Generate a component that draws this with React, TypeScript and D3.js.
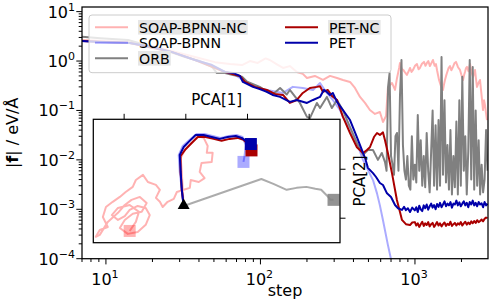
import React, { useRef, useEffect } from "react";
import * as d3 from "d3";

const W = 493;
const H = 308;

// legend / series setup
const seriesNames = ["SOAP-BPNN-NC", "SOAP-BPNN", "ORB", "PET-NC", "PET"];
const seriesColors = ["#ff0000", "#0000ff", "#808080", "#aa0000", "#0000aa"];
const seriesAlpha = [0.3, 0.33, 1, 1, 1];
const highlighted = [true, false, true, true, false];

// |f| vs step, [step, force in eV/Å]
const soapNc: [number, number][] = [
  [7, 2.67], [13.9, 2.44], [19.9, 2.0], [26.6, 1.6], [37.7, 1.21], [50.8, 0.95], [63.5, 0.87],
  [76, 0.83], [85.5, 1.0], [96, 0.915], [108, 1.13], [115, 1.05], [127, 0.87], [140, 0.725],
  [155, 0.79], [172, 0.6], [188, 0.55], [200, 0.455], [225, 0.5], [254, 0.414], [282, 0.5],
  [313, 0.455], [342, 0.414], [380, 0.377], [409, 0.285], [441, 0.188], [475, 0.142],
  [511, 0.102], [551, 0.085], [593, 0.093], [621, 0.0585], [650, 0.077], [668, 0.285],
  [710, 0.36], [743, 0.26], [765, 0.45], [790, 0.725], [800, 0.915], [820, 0.7], [840, 0.66],
  [865, 0.58], [887, 0.523], [910, 0.62], [929, 0.725], [950, 0.6], [971, 0.66], [1000, 0.8],
  [1030, 0.87], [1055, 0.68], [1077, 0.725], [1110, 0.88], [1144, 0.96], [1170, 0.8],
  [1196, 0.915], [1220, 1.0], [1250, 0.79], [1280, 0.92], [1308, 1.05], [1340, 0.8],
  [1367, 0.87], [1390, 0.65], [1410, 0.523], [1430, 0.42], [1452, 0.36], [1480, 0.3],
  [1518, 0.26], [1540, 0.33], [1564, 0.414], [1590, 0.5], [1611, 0.574], [1650, 0.72],
  [1686, 0.79], [1720, 0.65], [1763, 0.76], [1800, 0.9], [1843, 0.96], [1900, 0.75],
  [1956, 0.66], [2000, 0.52], [2047, 0.414], [2080, 0.52], [2108, 0.6], [2140, 0.72],
  [2172, 0.76], [2220, 0.62], [2271, 0.87], [2320, 0.6], [2376, 0.477], [2410, 0.56],
  [2447, 0.66], [2480, 0.45], [2520, 0.3], [2580, 0.36], [2636, 0.414], [2700, 0.2],
  [2756, 0.102], [2800, 0.16], [2839, 0.129], [2880, 0.09], [2925, 0.064],
];

const soap: [number, number][] = [
  [7, 2.55], [9.2, 2.44], [13.9, 2.32], [19.9, 1.93], [26.6, 1.53], [37.7, 1.05], [48.6, 0.83],
  [59, 0.6], [68.4, 0.523], [77, 0.414], [92, 0.3], [110, 0.26], [140, 0.226], [162, 0.3],
  [188, 0.285], [219, 0.26], [243, 0.36], [269, 0.226], [294, 0.163], [327, 0.102],
  [342, 0.074], [380, 0.044], [421, 0.022], [461, 0.01], [535, 0.0039], [568, 0.0021],
  [593, 0.0012], [621, 0.0006], [668, 0.00019], [710, 0.00008],
];

const orb: [number, number][] = [
  [7, 3.1], [9.2, 2.9], [13.9, 2.67], [19.3, 2.0], [25.9, 1.53], [32.5, 1.21], [40.6, 1.0],
  [48.6, 0.76], [52.3, 0.57], [59, 0.57], [66.4, 0.52], [76, 0.48], [82, 0.38], [99, 0.3],
  [110, 0.24], [120, 0.21], [134, 0.285], [148, 0.21], [155, 0.26], [180, 0.142], [200, 0.074],
  [209, 0.07], [232, 0.142], [243, 0.112], [269, 0.188], [290, 0.112], [313, 0.163],
  [342, 0.1], [380, 0.046], [421, 0.022], [461, 0.0126], [496, 0.0158], [535, 0.0158],
  [576, 0.01], [610, 0.0138], [640, 0.009], [655, 0.006], [670, 0.3], [685, 0.57],
  [700, 0.012], [716, 0.008], [732, 0.005], [748, 0.03], [765, 0.035], [782, 0.006],
  [800, 0.2], [818, 1.05], [836, 0.02], [855, 0.006], [874, 0.004], [893, 0.012],
  [913, 0.003], [934, 0.0025], [955, 0.03], [976, 0.004], [998, 0.008], [1020, 0.0035],
  [1043, 0.081], [1066, 0.006], [1090, 0.025], [1115, 0.003], [1140, 0.012], [1165, 0.0028],
  [1191, 0.035], [1218, 0.006], [1245, 0.0022], [1273, 0.015], [1301, 0.1], [1330, 0.003],
  [1360, 0.05], [1390, 0.0025], [1421, 0.064], [1453, 0.003], [1486, 1.2], [1519, 0.005],
  [1553, 0.16], [1588, 0.0035], [1623, 0.02], [1660, 0.0025], [1697, 0.04], [1735, 0.002],
  [1774, 0.012], [1813, 0.0028], [1854, 0.06], [1895, 0.002], [1938, 0.16], [1981, 0.003],
  [2025, 0.48], [2071, 0.006], [2117, 0.03], [2164, 0.002], [2213, 0.015], [2262, 1.05],
  [2313, 0.004], [2365, 0.76], [2418, 0.0025], [2472, 0.1], [2527, 0.003], [2584, 0.025],
  [2641, 0.002], [2701, 0.008], [2761, 0.0022], [2823, 0.004], [2886, 0.04], [2950, 0.006],
];

const petNc: [number, number][] = [
  [7, 2.55], [14.3, 2.32], [26.6, 1.53], [37.7, 1.05], [59, 0.6], [73.6, 0.5], [79.4, 0.377],
  [92, 0.3], [110, 0.26], [124, 0.216], [140, 0.206], [155, 0.142], [172, 0.163], [188, 0.226],
  [209, 0.285], [232, 0.3], [243, 0.31], [254, 0.237], [273, 0.26], [290, 0.197], [313, 0.163],
  [342, 0.074], [380, 0.035], [421, 0.018], [461, 0.0138], [489, 0.0158], [511, 0.018],
  [543, 0.029], [568, 0.035], [593, 0.032], [621, 0.036], [640, 0.025], [668, 0.0138],
  [710, 0.0054], [764, 0.00154], [800, 0.00088], [824, 0.00061], [874, 0.0005], [929, 0.00048],
  [960, 0.00054], [998, 0.00055], [1020, 0.00047], [1043, 0.00052], [1066, 0.00044],
  [1090, 0.0005], [1115, 0.00056], [1140, 0.00046], [1165, 0.00052], [1191, 0.00048],
  [1218, 0.00055], [1245, 0.00045], [1273, 0.0005], [1301, 0.00053], [1330, 0.00044],
  [1360, 0.00049], [1390, 0.00055], [1421, 0.00047], [1453, 0.00052], [1486, 0.00045],
  [1519, 0.0005], [1553, 0.00054], [1588, 0.00046], [1623, 0.00051], [1660, 0.00048],
  [1697, 0.00056], [1735, 0.00046], [1774, 0.0005], [1813, 0.00053], [1854, 0.00047],
  [1895, 0.00052], [1938, 0.00049], [1981, 0.00055], [2025, 0.00047], [2071, 0.00052],
  [2117, 0.00056], [2164, 0.00049], [2213, 0.00054], [2262, 0.0005], [2313, 0.00057],
  [2365, 0.00052], [2418, 0.00058], [2472, 0.00053], [2527, 0.0006], [2584, 0.00055],
  [2641, 0.00058], [2701, 0.00062], [2761, 0.00057], [2823, 0.00064], [2886, 0.00068],
  [2950, 0.00066],
];

const pet: [number, number][] = [
  [7, 2.55], [9.2, 2.44], [14.3, 2.32], [19.9, 1.93], [26.6, 1.53], [37.7, 1.05], [48.6, 0.83],
  [59, 0.6], [66.4, 0.574], [73.6, 0.5], [77, 0.377], [89.4, 0.3], [99, 0.27], [110, 0.237],
  [120, 0.206], [134, 0.188], [155, 0.149], [172, 0.163], [200, 0.142], [219, 0.163],
  [243, 0.188], [257, 0.26], [269, 0.237], [282, 0.206], [294, 0.226], [313, 0.149],
  [342, 0.102], [380, 0.064], [421, 0.029], [454, 0.0158], [475, 0.011], [496, 0.0069],
  [535, 0.0054], [560, 0.0045], [593, 0.0034], [621, 0.0031], [659, 0.0021], [700, 0.00177],
  [743, 0.00122], [777, 0.00105], [824, 0.00097], [850, 0.00112], [874, 0.00096],
  [900, 0.00105], [929, 0.00088], [960, 0.00108], [998, 0.00095], [1020, 0.0011],
  [1043, 0.00088], [1066, 0.00118], [1090, 0.001], [1115, 0.00092], [1140, 0.0012],
  [1165, 0.00105], [1191, 0.00125], [1218, 0.00098], [1245, 0.00115], [1273, 0.0013],
  [1301, 0.00108], [1330, 0.00122], [1360, 0.001], [1390, 0.00128], [1421, 0.00112],
  [1453, 0.00135], [1486, 0.0011], [1519, 0.00125], [1553, 0.00145], [1588, 0.00115],
  [1623, 0.0013], [1660, 0.0012], [1697, 0.0014], [1735, 0.00108], [1774, 0.0013],
  [1813, 0.00125], [1854, 0.0015], [1895, 0.0012], [1938, 0.00138], [1981, 0.00115],
  [2025, 0.0013], [2071, 0.00145], [2117, 0.0012], [2164, 0.00135], [2213, 0.0011],
  [2262, 0.0014], [2313, 0.00125], [2365, 0.0015], [2418, 0.0012], [2472, 0.00135],
  [2527, 0.00115], [2584, 0.0014], [2641, 0.00125], [2701, 0.00132], [2761, 0.0011],
  [2823, 0.0014], [2886, 0.0012], [2950, 0.0013],
];

// inset: trajectories in PCA space, [PCA1, PCA2]
const soapNcPca: [number, number][] = [
  [-0.07, -1.5], [-0.1, -0.84], [-0.13, -0.11], [-0.165, 0.46], [-0.03, 0.79], [0.19, 1.07],
  [0.39, 1.36], [0.58, 1.28], [0.71, 0.95], [0.68, 0.67], [0.87, 0.67], [0.84, 0.3],
  [0.51, 0.26], [0.45, -0.11], [0.61, -0.36], [0.42, -0.52], [0.16, -0.44], [0.13, -0.76],
  [-0.07, -0.84], [-0.29, -0.93], [-0.39, -1.21], [-0.59, -1.33], [-0.75, -1.54],
  [-0.84, -1.33], [-0.97, -1.17], [-0.84, -0.84], [-0.97, -0.64], [-1.23, -0.52],
  [-1.39, -0.23], [-1.62, -0.44], [-1.72, -0.72], [-1.95, -0.93], [-2.14, -1.13],
  [-2.37, -1.33], [-2.59, -1.54], [-2.69, -1.95], [-2.53, -2.36], [-2.79, -2.48],
  [-2.92, -2.76], [-2.79, -2.68], [-2.53, -2.15], [-2.2, -1.78], [-1.98, -1.46],
  [-1.76, -1.25], [-1.49, -1.13], [-1.27, -1.38], [-1.43, -1.74], [-1.72, -1.82],
  [-1.98, -2.07], [-2.14, -2.4], [-1.88, -2.64], [-1.56, -2.56], [-1.3, -2.27],
  [-1.17, -1.87], [-1.3, -1.58], [-1.56, -1.5], [-1.82, -1.66], [-1.98, -1.91],
  [-2.2, -2.07], [-2.4, -1.87], [-2.2, -1.58], [-1.82, -1.46], [-1.52, -1.74],
  [-1.62, -2.15], [-1.82, -2.52],
];
const soapPca: [number, number][] = [
  [-0.07, -1.5], [-0.13, -0.84], [-0.197, -0.11], [-0.23, 0.58], [-0.1, 0.95], [0.126, 1.2],
  [0.35, 1.44], [0.61, 1.44], [0.87, 1.36], [1.13, 1.28], [1.39, 1.36], [1.65, 1.4],
  [1.84, 1.32], [1.94, 0.99], [1.91, 0.58], [1.87, 0.3],
];
const orbPca: [number, number][] = [
  [-0.07, -1.5], [2.45, -0.4], [2.84, -0.6], [3.27, -0.84], [3.59, -0.76], [3.91, -0.72],
  [4.2, -0.8], [4.39, -0.84], [4.59, -1.09], [4.69, -1.25], [4.79, -1.25],
];
const petNcPca: [number, number][] = [
  [-0.07, -1.5], [-0.13, -0.84], [-0.17, -0.11], [-0.17, 0.54], [0.0, 0.83], [0.19, 1.07],
  [0.39, 1.32], [0.64, 1.32], [0.9, 1.24], [1.16, 1.16], [1.42, 1.24], [1.68, 1.28],
  [1.87, 1.2], [2.04, 0.99], [2.13, 0.77],
];
const petPca: [number, number][] = [
  [-0.07, -1.5], [-0.13, -0.84], [-0.165, -0.11], [-0.197, 0.58], [-0.068, 0.91],
  [0.126, 1.16], [0.32, 1.4], [0.58, 1.4], [0.84, 1.32], [1.1, 1.24], [1.36, 1.32],
  [1.62, 1.36], [1.81, 1.28], [2.01, 1.11], [2.11, 1.03],
];

const xMajor = [10, 100, 1000];
const xExp = ["1", "2", "3"];
const yMajor = [1e-4, 1e-3, 1e-2, 1e-1, 1, 10];
const yExp = ["\u22124", "\u22123", "\u22122", "\u22121", "0", "1"];
const pca1Ticks = [-2, 0, 2, 4];
const pca2Ticks = [-2, 0];

const FONT = "DejaVu Sans, sans-serif";

function App() {
  const svgRef = useRef(null);

  useEffect(() => {
    const svg = d3.select(svgRef.current);
    svg.selectAll("*").remove();

    const L = 82, R = 488, T = 7, B = 258.7;
    const x = d3.scaleLog().domain([7, 2970]).range([L, R]);
    const y = d3.scaleLog().domain([1e-4, 12.4]).range([B, T]);

    const defs = svg.append("defs");
    defs.append("clipPath").attr("id", "mainclip")
      .append("rect").attr("x", L).attr("y", T).attr("width", R - L).attr("height", B - T);

    // main lines
    const line = d3.line<[number, number]>().x(d => x(d[0])).y(d => y(d[1]));
    const mainData = [soapNc, soap, orb, petNc, pet];
    const gl = svg.append("g").attr("clip-path", "url(#mainclip)");
    mainData.forEach((s, i) => {
      gl.append("path")
        .attr("d", line(s))
        .attr("fill", "none")
        .attr("stroke", seriesColors[i])
        .attr("stroke-opacity", seriesAlpha[i])
        .attr("stroke-width", 2)
        .attr("stroke-linejoin", "round");
    });

    // axes ticks
    const ax = svg.append("g").attr("stroke", "#000").attr("stroke-width", 1);
    const xMinor: number[] = [];
    [1, 10, 100, 1000].forEach(dec => {
      for (let k = 2; k <= 9; k++) {
        const v = dec * k;
        if (v >= 7 && v <= 2970) xMinor.push(v);
      }
    });
    const yMinor: number[] = [];
    [1e-4, 1e-3, 1e-2, 1e-1, 1].forEach(dec => {
      for (let k = 2; k <= 9; k++) yMinor.push(dec * k);
    });
    xMinor.forEach(v => ax.append("line").attr("x1", x(v)).attr("x2", x(v)).attr("y1", B).attr("y2", B + 3.3));
    xMajor.forEach(v => ax.append("line").attr("x1", x(v)).attr("x2", x(v)).attr("y1", B).attr("y2", B + 5.7));
    yMinor.forEach(v => ax.append("line").attr("y1", y(v)).attr("y2", y(v)).attr("x1", L).attr("x2", L - 3.3));
    yMajor.forEach(v => ax.append("line").attr("y1", y(v)).attr("y2", y(v)).attr("x1", L).attr("x2", L - 5.7));

    xMajor.forEach((v, i) => {
      const t = svg.append("text").attr("x", x(v) - 1).attr("y", B + 26.5)
        .attr("text-anchor", "middle").attr("font-family", FONT).attr("font-size", 16);
      t.append("tspan").text("10");
      t.append("tspan").attr("dy", -7).attr("font-size", 11).text(xExp[i]);
    });
    yMajor.forEach((v, i) => {
      const t = svg.append("text").attr("x", L - 7).attr("y", y(v) + 6)
        .attr("text-anchor", "end").attr("font-family", FONT).attr("font-size", 16);
      t.append("tspan").text("10");
      t.append("tspan").attr("dy", -7).attr("font-size", 11).text(yExp[i]);
    });

    svg.append("text").attr("x", (L + R) / 2).attr("y", 296)
      .attr("text-anchor", "middle").attr("font-family", FONT).attr("font-size", 16).text("step");
    const yl = svg.append("text").attr("transform", `translate(18,${(T + B) / 2}) rotate(-90)`)
      .attr("text-anchor", "middle").attr("font-family", FONT).attr("font-size", 16);
    yl.append("tspan").text("|");
    yl.append("tspan").attr("font-weight", "bold").text("f");
    yl.append("tspan").text("| / eV/\u00c5");

    // inset
    const iL = 93.3, iR = 340, iT = 119.3, iB = 242.7;
    const px = d3.scaleLinear().domain([-3, 5]).range([iL, iR]);
    const py = d3.scaleLinear().domain([-3, 2.04]).range([iB, iT]);
    defs.append("clipPath").attr("id", "insetclip")
      .append("rect").attr("x", iL).attr("y", iT).attr("width", iR - iL).attr("height", iB - iT);

    svg.append("rect").attr("x", iL).attr("y", iT).attr("width", iR - iL).attr("height", iB - iT)
      .attr("fill", "#fff");
    const pline = d3.line<[number, number]>().x(d => px(d[0])).y(d => py(d[1]));
    const insetData = [soapNcPca, soapPca, orbPca, petNcPca, petPca];
    const insetColors = ["#ff0000", "#0000ff", "#808080", "#aa0000", "#0000aa"];
    const insetAlpha = [0.3, 0.33, 0.65, 1, 1];
    const gi = svg.append("g").attr("clip-path", "url(#insetclip)");
    insetData.forEach((s, i) => {
      gi.append("path")
        .attr("d", pline(s))
        .attr("fill", "none")
        .attr("stroke", insetColors[i])
        .attr("stroke-opacity", insetAlpha[i])
        .attr("stroke-width", 2)
        .attr("stroke-linejoin", "round");
    });
    const sq = 12;
    const squareAlpha = [0.3, 0.33, 0.85, 1, 1];
    insetData.forEach((s, i) => {
      const end = s[s.length - 1];
      gi.append("rect")
        .attr("x", px(end[0]) - sq / 2).attr("y", py(end[1]) - sq / 2)
        .attr("width", sq).attr("height", sq)
        .attr("fill", insetColors[i]).attr("fill-opacity", squareAlpha[i]);
    });
    const st = soapNcPca[0];
    const tri = d3.symbol().type(d3.symbolTriangle).size(62);
    gi.append("path").attr("d", tri()).attr("transform", `translate(${px(st[0])},${py(st[1]) - 0.5})`)
      .attr("fill", "#000");

    svg.append("rect").attr("x", iL).attr("y", iT).attr("width", iR - iL).attr("height", iB - iT)
      .attr("fill", "none").attr("stroke", "#000").attr("stroke-width", 1.25);
    pca1Ticks.forEach(v => svg.append("line").attr("x1", px(v)).attr("x2", px(v))
      .attr("y1", iT).attr("y2", iT - 5.5).attr("stroke", "#000").attr("stroke-width", 1));
    pca2Ticks.forEach(v => svg.append("line").attr("y1", py(v)).attr("y2", py(v))
      .attr("x1", iR).attr("x2", iR + 5.5).attr("stroke", "#000").attr("stroke-width", 1));
    svg.append("text").attr("x", (iL + iR) / 2).attr("y", 105)
      .attr("text-anchor", "middle").attr("font-family", FONT).attr("font-size", 15).text("PCA[1]");
    svg.append("text").attr("transform", `translate(365,${(iT + iB) / 2}) rotate(-90)`)
      .attr("text-anchor", "middle").attr("font-family", FONT).attr("font-size", 15).text("PCA[2]");

    // main frame
    svg.append("rect").attr("x", L).attr("y", T).attr("width", R - L).attr("height", B - T)
      .attr("fill", "none").attr("stroke", "#000").attr("stroke-width", 1.25);

    // legend
    const lg = svg.append("g");
    lg.append("rect").attr("x", 89).attr("y", 15).attr("width", 302).attr("height", 57.7)
      .attr("rx", 3).attr("fill", "#fff").attr("fill-opacity", 0.8)
      .attr("stroke", "#cccccc").attr("stroke-width", 1);
    const rowY = [27.3, 42.7, 58.3];
    const colX = [95, 285];
    seriesNames.forEach((name, i) => {
      const col = i < 3 ? 0 : 1;
      const row = i < 3 ? i : i - 3;
      const cy = rowY[row];
      const hx = colX[col];
      lg.append("line").attr("x1", hx).attr("x2", hx + 33).attr("y1", cy).attr("y2", cy)
        .attr("stroke", seriesColors[i]).attr("stroke-opacity", seriesAlpha[i]).attr("stroke-width", 2);
      const txt = lg.append("text").attr("x", hx + 44).attr("y", cy + 5.2)
        .attr("font-family", FONT).attr("font-size", 14.2).text(name);
      if (highlighted[i]) {
        const bb = (txt.node() as SVGTextElement).getBBox();
        lg.insert("rect", () => txt.node())
          .attr("x", bb.x - 1).attr("y", cy - 7.3).attr("width", bb.width + 2).attr("height", 14.6)
          .attr("fill", "#e6e6e6");
      }
    });
  }, []);

  return (
    <div style={{ position: "absolute", left: 0, top: 0 }}>
      <svg ref={svgRef} width={W} height={H} />
    </div>
  );
}

export default App;
